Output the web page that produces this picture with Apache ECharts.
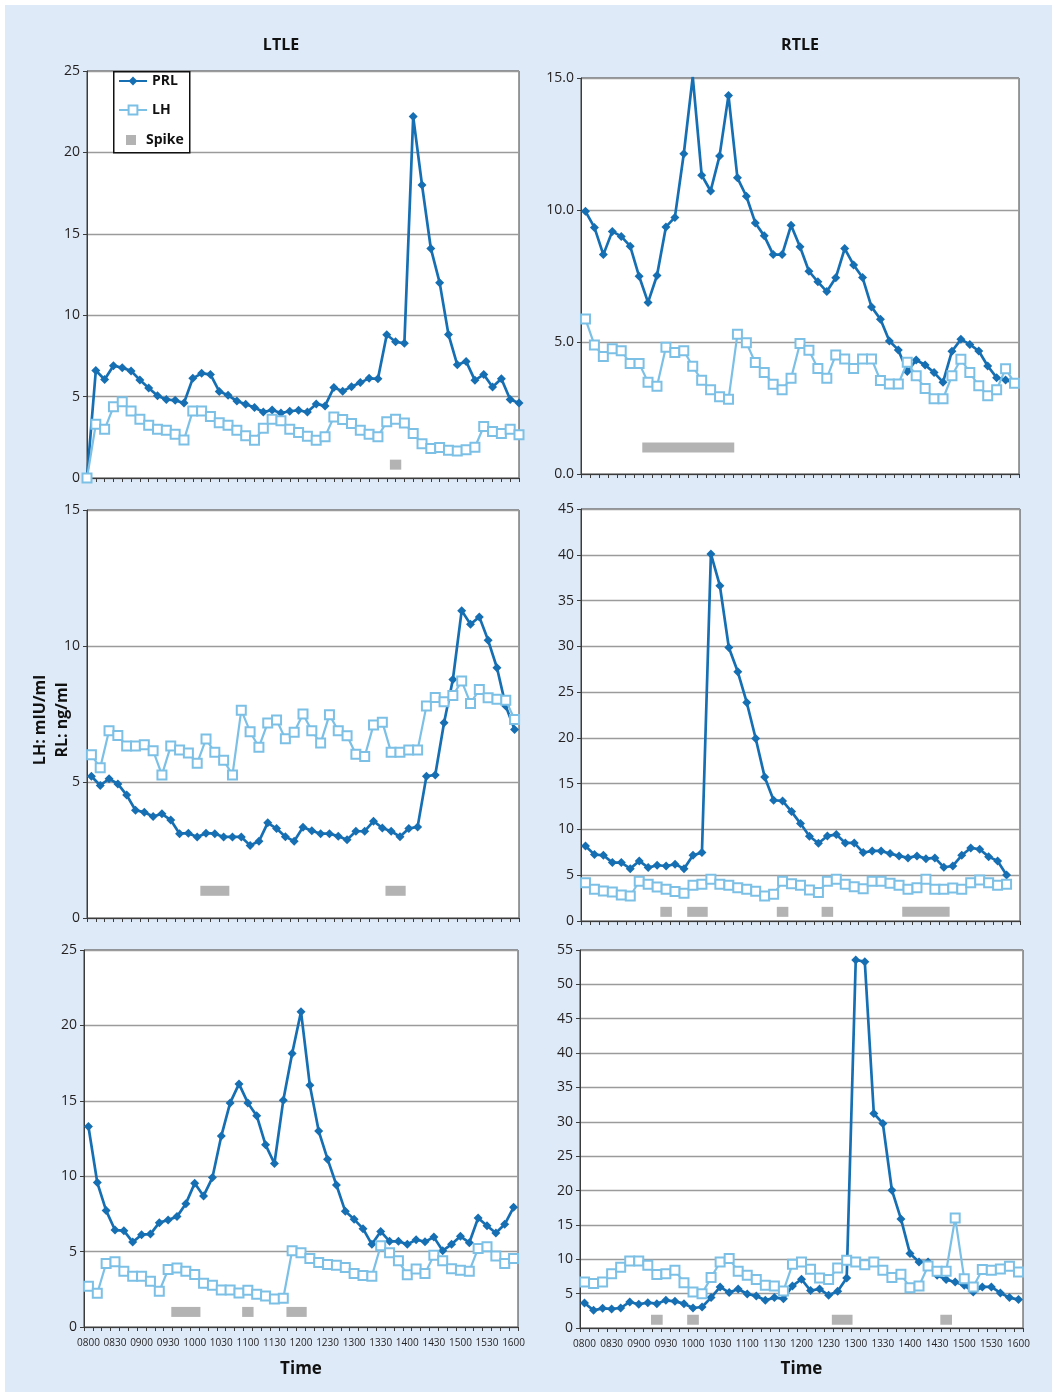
<!DOCTYPE html>
<html>
<head>
<meta charset="utf-8">
<script src="https://cdn.jsdelivr.net/npm/echarts@6/dist/echarts.min.js"></script>
<style>
html,body{margin:0;padding:0;background:#fff;}
#bg{position:absolute;left:5px;top:5px;width:1047px;height:1387px;background:#deeaf7;}
#c{position:absolute;left:0;top:0;width:1052px;height:1392px;}
</style>
</head>
<body>
<div id="bg"></div>
<div id="c"></div>
<script>
// ---------- categories / tick labels ----------
const times = ['0800','0810','0820','0830','0840','0850','0900','0910','0920','0930','0940','0950',
  '1000','1010','1020','1030','1040','1050','1100','1110','1120','1130','1140','1150',
  '1200','1210','1220','1230','1240','1250','1300','1310','1320','1330','1340','1350',
  '1400','1410','1420','1430','1440','1450','1500','1510','1520','1530','1540','1550','1600'];
const timesLtle1 = ['0750'].concat(times);

// ---------- LTLE (top) ----------
const ltle1PRL = [0, 6.6, 6.05, 6.9, 6.77, 6.58, 6.02, 5.53, 5.05, 4.82, 4.77, 4.61, 6.12, 6.43, 6.36, 5.32, 5.08, 4.73, 4.53, 4.33,
  4.05, 4.18, 3.99, 4.1, 4.16, 4.05, 4.55, 4.43, 5.56, 5.33, 5.61, 5.86, 6.12, 6.09, 8.8, 8.37, 8.27, 22.2, 18.0, 14.1,
  12.0, 8.82, 6.95, 7.16, 6.0, 6.36, 5.59, 6.1, 4.82, 4.61];
const ltle1LH = [0, 3.3, 2.99, 4.37, 4.69, 4.12, 3.61, 3.24, 2.99, 2.93, 2.69, 2.34, 4.12, 4.12, 3.77, 3.4, 3.24, 2.93, 2.6, 2.32,
  3.05, 3.61, 3.51, 2.99, 2.79, 2.56, 2.32, 2.54, 3.75, 3.59, 3.35, 2.93, 2.69, 2.54, 3.46, 3.61, 3.38, 2.73, 2.11, 1.81,
  1.87, 1.7, 1.66, 1.74, 1.89, 3.16, 2.85, 2.73, 2.99, 2.65];
const ltle1Spike = [[35, 35, 0.82]];

// ---------- RTLE (top) ----------
const rtle1PRL = [9.95, 9.34, 8.31, 9.19, 9.0, 8.63, 7.49, 6.5, 7.52, 9.36, 9.72, 12.13, 15.05, 11.32, 10.72, 12.05, 14.34, 11.22, 10.52, 9.51,
  9.02, 8.31, 8.31, 9.42, 8.61, 7.68, 7.28, 6.91, 7.43, 8.54, 7.92, 7.44, 6.33, 5.86, 5.04, 4.7, 3.88, 4.32, 4.13, 3.84,
  3.48, 4.65, 5.1, 4.91, 4.66, 4.09, 3.65, 3.56, 3.45];
const rtle1LH = [5.87, 4.89, 4.45, 4.74, 4.67, 4.19, 4.19, 3.48, 3.32, 4.8, 4.6, 4.67, 4.08, 3.55, 3.19, 2.93, 2.83, 5.29, 4.97, 4.22,
  3.84, 3.4, 3.19, 3.63, 4.94, 4.69, 4.0, 3.63, 4.51, 4.36, 4.0, 4.36, 4.36, 3.54, 3.41, 3.41, 4.23, 3.72, 3.24, 2.85,
  2.85, 3.72, 4.35, 3.84, 3.34, 2.96, 3.19, 3.99, 3.44];
const rtle1Spike = [[7, 16, 1.0]];

// ---------- LTLE (middle) ----------
const ltle2PRL = [5.21, 4.87, 5.12, 4.93, 4.52, 3.96, 3.89, 3.73, 3.83, 3.6, 3.1, 3.12, 2.98, 3.12, 3.1, 2.98, 2.98, 2.98, 2.67, 2.82,
  3.5, 3.29, 2.99, 2.82, 3.34, 3.21, 3.1, 3.1, 3.01, 2.88, 3.19, 3.19, 3.56, 3.31, 3.19, 2.99, 3.29, 3.35, 5.21, 5.26,
  7.18, 8.77, 11.3, 10.8, 11.07, 10.21, 9.2, 7.79, 6.93];
const ltle2LH = [6.0, 5.52, 6.88, 6.71, 6.32, 6.32, 6.37, 6.15, 5.26, 6.32, 6.18, 6.07, 5.69, 6.58, 6.09, 5.8, 5.26, 7.64, 6.85, 6.28,
  7.17, 7.28, 6.59, 6.83, 7.5, 6.88, 6.43, 7.47, 6.88, 6.7, 6.02, 5.94, 7.1, 7.2, 6.09, 6.09, 6.18, 6.18, 7.79, 8.11,
  7.95, 8.18, 8.71, 7.89, 8.4, 8.1, 8.04, 8.01, 7.3];
const ltle2Spike = [[13, 15, 1.0], [34, 35, 1.0]];

// ---------- RTLE (middle) ----------
const rtle2PRL = [8.2, 7.25, 7.18, 6.38, 6.38, 5.72, 6.56, 5.83, 6.09, 6.01, 6.2, 5.72, 7.18, 7.47, 40.09, 36.62, 29.88, 27.22, 23.87, 19.93,
  15.74, 13.19, 13.12, 11.95, 10.64, 9.26, 8.49, 9.29, 9.44, 8.53, 8.53, 7.47, 7.65, 7.65, 7.36, 7.11, 6.89, 7.11, 6.81, 6.89,
  5.87, 6.01, 7.18, 7.98, 7.84, 7.03, 6.56, 5.03];
const rtle2LH = [4.19, 3.46, 3.28, 3.17, 2.84, 2.73, 4.34, 4.01, 3.72, 3.46, 3.21, 3.02, 3.9, 4.01, 4.56, 4.01, 3.9, 3.64, 3.46, 3.24,
  2.73, 2.92, 4.34, 4.08, 3.9, 3.39, 3.1, 4.34, 4.56, 4.01, 3.75, 3.53, 4.34, 4.34, 4.12, 3.9, 3.46, 3.64, 4.56, 3.46,
  3.46, 3.61, 3.46, 4.19, 4.48, 4.19, 3.9, 4.01];
const rtle2Spike = [[9, 9, 1.0], [12, 13, 1.0], [22, 22, 1.0], [27, 27, 1.0], [36, 40, 1.0]];

// ---------- LTLE (bottom) ----------
const ltle3PRL = [13.3, 9.58, 7.72, 6.43, 6.39, 5.63, 6.12, 6.16, 6.92, 7.1, 7.32, 8.18, 9.53, 8.69, 9.91, 12.66, 14.86, 16.12, 14.86, 14.01,
  12.08, 10.84, 15.03, 18.14, 20.91, 16.03, 12.99, 11.13, 9.42, 7.67, 7.14, 6.52, 5.48, 6.34, 5.68, 5.68, 5.48, 5.79, 5.65, 5.96,
  5.06, 5.48, 6.01, 5.59, 7.23, 6.72, 6.23, 6.81, 7.94];
const ltle3LH = [2.71, 2.24, 4.21, 4.32, 3.7, 3.37, 3.37, 3.04, 2.37, 3.81, 3.92, 3.7, 3.48, 2.9, 2.77, 2.46, 2.46, 2.26, 2.44, 2.17,
  2.06, 1.86, 1.91, 5.06, 4.92, 4.55, 4.28, 4.15, 4.1, 3.95, 3.55, 3.41, 3.37, 5.39, 4.92, 4.39, 3.46, 3.84, 3.55, 4.75,
  4.39, 3.86, 3.77, 3.7, 5.21, 5.32, 4.7, 4.21, 4.55];
const ltle3Spike = [[10, 12, 1.0], [18, 18, 1.0], [23, 24, 1.0]];

// ---------- RTLE (bottom) ----------
const rtle3PRL = [3.64, 2.57, 2.86, 2.77, 2.91, 3.79, 3.45, 3.69, 3.54, 4.03, 3.88, 3.54, 2.91, 3.06, 4.42, 5.97, 5.15, 5.68, 4.95, 4.66,
  4.03, 4.42, 4.27, 6.12, 7.09, 5.44, 5.68, 4.76, 5.34, 7.28, 53.54, 53.3, 31.21, 29.76, 20.05, 15.87, 10.83, 9.61, 9.61, 7.67,
  7.04, 6.7, 6.21, 5.24, 5.97, 5.97, 5.1, 4.42, 4.13];
const rtle3LH = [6.7, 6.46, 6.7, 7.91, 8.83, 9.76, 9.76, 9.13, 7.77, 7.91, 8.4, 6.6, 5.24, 5.0, 7.33, 9.61, 10.1, 8.25, 7.67, 7.04,
  6.21, 6.12, 5.39, 9.27, 9.61, 8.54, 7.28, 7.04, 8.74, 9.85, 9.61, 9.22, 9.61, 8.4, 7.33, 7.82, 5.87, 6.12, 9.03, 8.25,
  8.25, 16.02, 7.18, 5.97, 8.5, 8.4, 8.59, 8.98, 8.16];
const rtle3Spike = [[8, 8, 1.2], [12, 12, 1.2], [28, 29, 1.2], [40, 40, 1.2]];

// ---------- axis ranges ----------
const yMax = [25, 15, 15, 45, 25, 55];

// ---------- styling / layout ----------
const FONT = '"Open Sans", "Noto Sans", sans-serif';
const PRL_COLOR = '#166fb2';
const LH_COLOR = '#7cc0e6';
const SPIKE_COLOR = '#b3b3b3';

const panels = [
  {grid:{left:87, top:71, width:432, height:407}, cats:timesLtle1, gap:false, prl:ltle1PRL, lh:ltle1LH, spike:ltle1Spike, labels:false, dec:0, nameGap:0},
  {grid:{left:581, top:78, width:438, height:396}, cats:times, gap:true, prl:rtle1PRL, lh:rtle1LH, spike:rtle1Spike, labels:false, dec:1, nameGap:0},
  {grid:{left:87, top:510, width:432, height:408}, cats:times, gap:true, prl:ltle2PRL, lh:ltle2LH, spike:ltle2Spike, labels:false, dec:0, nameGap:0},
  {grid:{left:581, top:509, width:439, height:412}, cats:times, gap:true, prl:rtle2PRL, lh:rtle2LH, spike:rtle2Spike, labels:false, dec:0, nameGap:0},
  {grid:{left:84, top:950, width:434, height:377}, cats:times, gap:true, prl:ltle3PRL, lh:ltle3LH, spike:ltle3Spike, labels:true, dec:0, nameGap:34},
  {grid:{left:580, top:950, width:443, height:378}, cats:times, gap:true, prl:rtle3PRL, lh:rtle3LH, spike:rtle3Spike, labels:true, dec:0, nameGap:33}
];

function spikeRender(params, api) {
  const s = api.value(0), e = api.value(1), y = api.value(2);
  const p0 = api.coord([s, y]);
  const p1 = api.coord([e, y]);
  const cw = api.size([1, 0])[0];
  const half = cw * 0.645;
  const h = 10;
  return {
    type: 'rect',
    shape: {x: p0[0] - half, y: p0[1] - h / 2, width: p1[0] - p0[0] + 2 * half, height: h},
    style: {fill: SPIKE_COLOR}
  };
}

const grids = [], xAxes = [], yAxes = [], series = [];
panels.forEach((p, i) => {
  grids.push(Object.assign({show:true, backgroundColor:'#ffffff', borderColor:'#3c3c3c', borderWidth:1, containLabel:false}, p.grid));
  xAxes.push({
    type:'category', gridIndex:i, data:p.cats, boundaryGap:p.gap,
    axisLine:{show:true, lineStyle:{color:'#3c3c3c', width:1}},
    axisTick:{show:true, interval:0, length:4, inside:false, lineStyle:{color:'#3c3c3c'}},
    axisLabel:{show:p.labels, interval:2, fontSize:10, color:'#231f20', fontFamily:FONT, margin:11},
    splitLine:{show:false},
    name: p.labels ? 'Time' : '', nameLocation:'middle', nameGap:p.nameGap,
    nameTextStyle:{fontSize:17, fontWeight:'bold', color:'#111', fontFamily:FONT}
  });
  yAxes.push({
    type:'value', gridIndex:i, min:0, max:yMax[i], interval:5,
    axisLine:{show:true, lineStyle:{color:'#3c3c3c', width:1}},
    axisTick:{show:true, length:4, inside:false, lineStyle:{color:'#3c3c3c'}},
    axisLabel:{fontSize:14, color:'#231f20', fontFamily:FONT, margin:7,
      formatter: v => v.toFixed(p.dec)},
    splitLine:{show:true, lineStyle:{color:'#9b9b9b', width:1.3}}
  });
  series.push({
    name:'PRL', type:'line', xAxisIndex:i, yAxisIndex:i, data:p.prl,
    symbol:'diamond', symbolSize:9, showAllSymbol:true,
    lineStyle:{color:PRL_COLOR, width:2.7}, itemStyle:{color:PRL_COLOR},
    z:3
  });
  series.push({
    name:'LH', type:'line', xAxisIndex:i, yAxisIndex:i, data:p.lh,
    symbol:'emptyRect', symbolSize:9, showAllSymbol:true,
    lineStyle:{color:LH_COLOR, width:2.2}, itemStyle:{color:LH_COLOR, borderWidth:1.6},
    z:4
  });
  series.push({
    name:'Spike', type:'custom', xAxisIndex:i, yAxisIndex:i, data:p.spike,
    encode:{x:[0,1], y:2}, renderItem:spikeRender, itemStyle:{color:SPIKE_COLOR}, z:2
  });
});

const option = {
  animation:false,
  backgroundColor:'transparent',
  textStyle:{fontFamily:FONT},
  grid:grids, xAxis:xAxes, yAxis:yAxes, series:series,
  legend:[
    {data:['PRL','LH'], orient:'vertical', left:118, top:74, padding:0, itemWidth:28, itemHeight:11, itemGap:15,
      textStyle:{fontSize:14, fontWeight:'bold', color:'#111', fontFamily:FONT}, selectedMode:false, z:20},
    {data:[{name:'Spike', icon:'rect'}], orient:'vertical', left:126, top:133, padding:0, itemWidth:10, itemHeight:10,
      textStyle:{fontSize:14, fontWeight:'bold', color:'#111', fontFamily:FONT, padding:[0,0,0,5]}, selectedMode:false, z:20}
  ],
  graphic:[
    {type:'rect', left:113, top:71, shape:{width:76, height:81}, style:{fill:'#fff', stroke:'#111', lineWidth:1.5}, z:15},
    {type:'text', x:281, y:45, style:{text:'LTLE', fontSize:16, fontWeight:'bold', fill:'#111', fontFamily:FONT, align:'center', verticalAlign:'middle'}},
    {type:'text', x:800, y:45, style:{text:'RTLE', fontSize:16, fontWeight:'bold', fill:'#111', fontFamily:FONT, align:'center', verticalAlign:'middle'}},
    {type:'text', x:51, y:720, rotation:Math.PI/2,
      style:{text:'LH: mIU/ml\nRL: ng/ml', fontSize:16, fontWeight:'bold', fill:'#111', fontFamily:FONT, align:'center', verticalAlign:'middle', lineHeight:22}}
  ]
};

const chart = echarts.init(document.getElementById('c'), null, {renderer:'canvas'});
chart.setOption(option);
</script>
</body>
</html>
